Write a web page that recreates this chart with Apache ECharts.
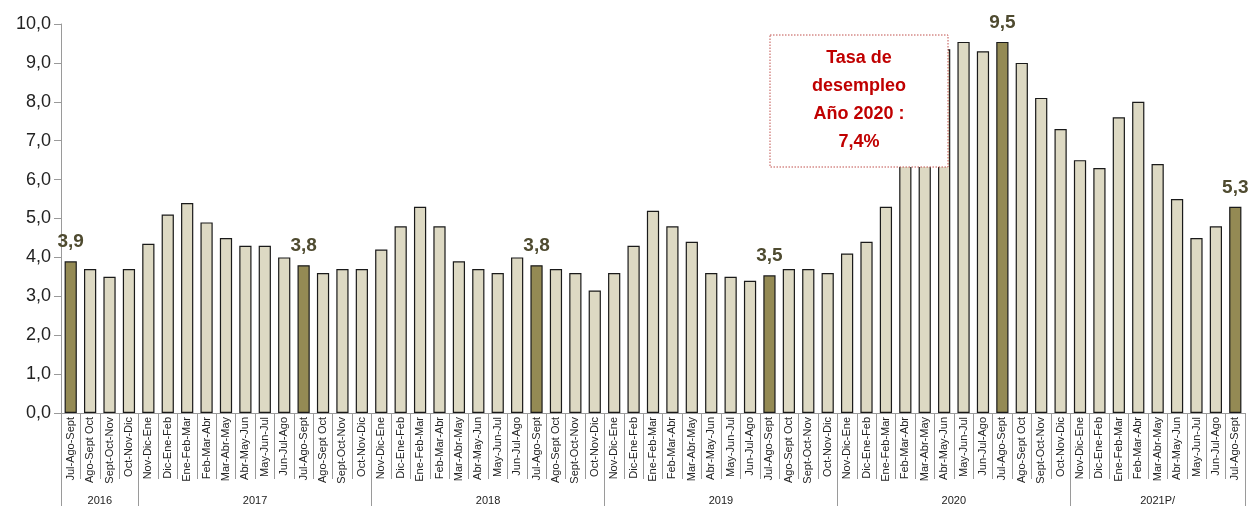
<!DOCTYPE html>
<html>
<head>
<meta charset="utf-8">
<script src="https://cdn.jsdelivr.net/npm/echarts@6/dist/echarts.min.js"></script>
<style>html,body{margin:0;padding:0;background:#fff;}#c{width:1250px;height:506px;}</style>
</head>
<body>
<div id="c"></div>
<script>
const categories = [
  'Jul-Ago-Sept','Ago-Sept Oct','Sept-Oct-Nov','Oct-Nov-Dic',
  'Nov-Dic-Ene','Dic-Ene-Feb','Ene-Feb-Mar','Feb-Mar-Abr','Mar-Abr-May','Abr-May-Jun','May-Jun-Jul','Jun-Jul-Ago','Jul-Ago-Sept','Ago-Sept Oct','Sept-Oct-Nov','Oct-Nov-Dic',
  'Nov-Dic-Ene','Dic-Ene-Feb','Ene-Feb-Mar','Feb-Mar-Abr','Mar-Abr-May','Abr-May-Jun','May-Jun-Jul','Jun-Jul-Ago','Jul-Ago-Sept','Ago-Sept Oct','Sept-Oct-Nov','Oct-Nov-Dic',
  'Nov-Dic-Ene','Dic-Ene-Feb','Ene-Feb-Mar','Feb-Mar-Abr','Mar-Abr-May','Abr-May-Jun','May-Jun-Jul','Jun-Jul-Ago','Jul-Ago-Sept','Ago-Sept Oct','Sept-Oct-Nov','Oct-Nov-Dic',
  'Nov-Dic-Ene','Dic-Ene-Feb','Ene-Feb-Mar','Feb-Mar-Abr','Mar-Abr-May','Abr-May-Jun','May-Jun-Jul','Jun-Jul-Ago','Jul-Ago-Sept','Ago-Sept Oct','Sept-Oct-Nov','Oct-Nov-Dic',
  'Nov-Dic-Ene','Dic-Ene-Feb','Ene-Feb-Mar','Feb-Mar-Abr','Mar-Abr-May','Abr-May-Jun','May-Jun-Jul','Jun-Jul-Ago','Jul-Ago-Sept'
];
const values = [
  3.9, 3.7, 3.5, 3.7,
  4.35, 5.1, 5.4, 4.9, 4.5, 4.3, 4.3, 4.0, 3.8, 3.6, 3.7, 3.7,
  4.2, 4.8, 5.3, 4.8, 3.9, 3.7, 3.6, 4.0, 3.8, 3.7, 3.6, 3.15,
  3.6, 4.3, 5.2, 4.8, 4.4, 3.6, 3.5, 3.4, 3.54, 3.7, 3.7, 3.6,
  4.1, 4.4, 5.3, 7.0, 8.2, 9.35, 9.54, 9.3, 9.54, 9.0, 8.1, 7.3,
  6.5, 6.3, 7.6, 8.0, 6.4, 5.5, 4.5, 4.8, 5.3
];
const highlighted = [0, 12, 24, 36, 48, 60];
const years = ['2016', '2017', '2018', '2019', '2020', '2021P/'];
const yearSizes = [4, 12, 12, 12, 12, 9];
const noteText = 'Tasa de\ndesempleo\nAño 2020 :\n7,4%';

// year axis slots: 2 slots per category, boundaries at even indices
const yearSlots = new Array(categories.length * 2 + 1).fill('');
const yearTickIdx = [0];
let pos = 0;
years.forEach((y, i) => {
  yearSlots[pos + yearSizes[i]] = y;
  pos += yearSizes[i] * 2;
  yearTickIdx.push(pos);
});

const fmt = v => v.toFixed(1).replace('.', ',');

const chart = echarts.init(document.getElementById('c'));
chart.setOption({
  animation: false,
  grid: { left: 61, right: 5, top: 24, bottom: 93 },
  xAxis: [
    {
      type: 'category',
      data: categories,
      axisLine: { lineStyle: { color: '#9a9a9a', width: 1 } },
      axisTick: { show: true, interval: 0, length: 66, lineStyle: { color: '#9a9a9a' } },
      axisLabel: {
        interval: 0, rotate: 90, margin: 4,
        fontFamily: 'Liberation Sans Narrow, Liberation Sans, Arial', fontSize: 11, color: '#222'
      }
    },
    {
      type: 'category',
      position: 'bottom',
      boundaryGap: false,
      data: yearSlots,
      axisLine: { show: false },
      axisTick: {
        show: true, length: 94,
        interval: (i) => yearTickIdx.indexOf(i) >= 0,
        lineStyle: { color: '#9a9a9a' }
      },
      axisLabel: {
        interval: (i, v) => v !== '',
        margin: 82,
        fontFamily: 'Liberation Sans Narrow, Liberation Sans, Arial', fontSize: 11, color: '#222'
      }
    }
  ],
  yAxis: {
    type: 'value', min: 0, max: 10, interval: 1,
    axisLine: { show: true, lineStyle: { color: '#9a9a9a' } },
    axisTick: { show: true, length: 7, lineStyle: { color: '#9a9a9a' } },
    splitLine: { show: false },
    axisLabel: {
      formatter: v => fmt(v), margin: 10,
      fontFamily: 'Liberation Sans, Arial', fontSize: 18, color: '#222'
    }
  },
  series: [{
    type: 'bar',
    barCategoryGap: '37%',
    data: values.map((v, i) => {
      const hl = highlighted.indexOf(i) >= 0;
      return {
        value: v,
        itemStyle: { color: hl ? '#948a54' : '#ddd9c3', borderColor: '#1a1a1a', borderWidth: 1.2 },
        label: hl ? {
          show: true, position: 'top', distance: 10,
          formatter: p => fmt(p.value),
          fontFamily: 'Liberation Sans, Arial', fontWeight: 'bold', fontSize: 19, color: '#4f4b30'
        } : { show: false }
      };
    })
  }],
  graphic: [
    {
      type: 'rect', z: 100, x: 770, y: 35,
      shape: { x: 0, y: 0, width: 178, height: 132 },
      style: { fill: '#ffffff', stroke: '#c0504d', lineWidth: 1, lineDash: [1.5, 1.5] }
    },
    {
      type: 'text', z: 101, x: 859, y: 44,
      style: {
        text: noteText, textAlign: 'center', textVerticalAlign: 'top',
        fill: '#c00000', font: 'bold 18px "Liberation Sans", Arial', lineHeight: 28
      }
    }
  ]
});
</script>
</body>
</html>
